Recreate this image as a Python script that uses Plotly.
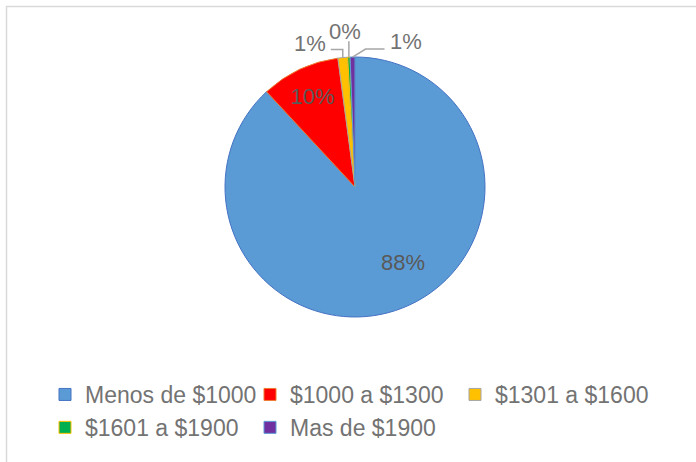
import math
import plotly.graph_objects as go

categories = ["Menos de $1000", "$1000 a $1300", "$1301 a $1600", "$1601 a $1900", "Mas de $1900"]
values = [88.1, 9.8, 1.2, 0.3, 0.6]
fill_colors = ["#5B9BD5", "#FF0000", "#FFC000", "#00B050", "#7030A0"]
line_colors = ["#4472C4", "#ED7D31", "#A5A5A5", "#FFC000", "#5B9BD5"]
text_positions = ["none", "inside", "none", "none", "none"]

W, H = 696, 462
CX, CY, R = 355, 187, 130
TEXT = "#737373"
FONT = "Liberation Sans, Arial, sans-serif"

fig = go.Figure()
fig.add_trace(go.Pie(
    labels=categories,
    values=values,
    sort=False,
    direction="clockwise",
    rotation=0,
    marker=dict(colors=fill_colors, line=dict(color=line_colors, width=1)),
    textposition=text_positions,
    texttemplate="%{percent:.0%}",
    insidetextorientation="horizontal",
    textfont=dict(family=FONT, size=22, color="#595959"),
    hoverinfo="label+percent",
    domain=dict(x=[(CX - R) / W, (CX + R) / W], y=[(H - CY - R) / H, (H - CY + R) / H]),
))

total = sum(values)
cum = 0.0
mids = []
for v in values:
    mids.append((cum + v / 2) / total * 2 * math.pi)
    cum += v

def px(x, y):
    return x / W, 1 - y / H

shapes = []
annotations = []

# label for the large slice
big_x, big_y = px(CX + 48, CY + 75)
annotations.append(dict(xref="paper", yref="paper", x=big_x, y=big_y,
                        text=f"{values[0] / total * 100:.0f}%", showarrow=False,
                        xanchor="center", yanchor="middle",
                        font=dict(family=FONT, size=22, color="#595959")))

# outside labels with leader lines for the tiny slices (computed from data)
label_offsets = {
    2: dict(path=[(0, -8), (-12, -8)], text=(-33, -14)),
    3: dict(path=[(0, -16)], text=(-4, -26)),
    4: dict(path=[(13, -8), (32, -8)], text=(53, -16)),
}
for i, spec in label_offsets.items():
    a = mids[i]
    ex = CX + R * math.sin(a)
    ey = CY - R * math.cos(a)
    pts = [(ex, ey)] + [(ex + dx, ey + dy) for dx, dy in spec["path"]]
    d = ""
    for k, (x, y) in enumerate(pts):
        xp, yp = px(x, y)
        d += ("M" if k == 0 else "L") + f"{xp},{yp} "
    shapes.append(dict(type="path", xref="paper", yref="paper", path=d.strip(),
                       line=dict(color="#A6A6A6", width=1.5)))
    tx, ty = px(ex + spec["text"][0], ey + spec["text"][1])
    pct = values[i] / total * 100
    annotations.append(dict(xref="paper", yref="paper", x=tx, y=ty, text=f"{pct:.0f}%",
                            showarrow=False, xanchor="center", yanchor="middle",
                            font=dict(family=FONT, size=22, color=TEXT)))

# chart frame
shapes.append(dict(type="rect", xref="paper", yref="paper", x0=6.5 / W, x1=1.05, y0=-0.05, y1=1 - 6.5 / H,
                   line=dict(color="#D9D9D9", width=1.5), fillcolor="rgba(0,0,0,0)"))

fig.update_layout(
    width=W, height=H,
    margin=dict(l=0, r=0, t=0, b=0),
    paper_bgcolor="white",
    plot_bgcolor="white",
    showlegend=True,
    legend=dict(orientation="h", x=45 / W, xanchor="left", y=1 - 373 / H, yanchor="top",
                font=dict(family=FONT, size=23, color=TEXT), traceorder="normal",
                entrywidth=160, bgcolor="rgba(0,0,0,0)"),
    shapes=shapes,
    annotations=annotations,
)

fig.write_html("out.html", config={"displayModeBar": False},
               post_script="document.body.style.margin='0px';")
